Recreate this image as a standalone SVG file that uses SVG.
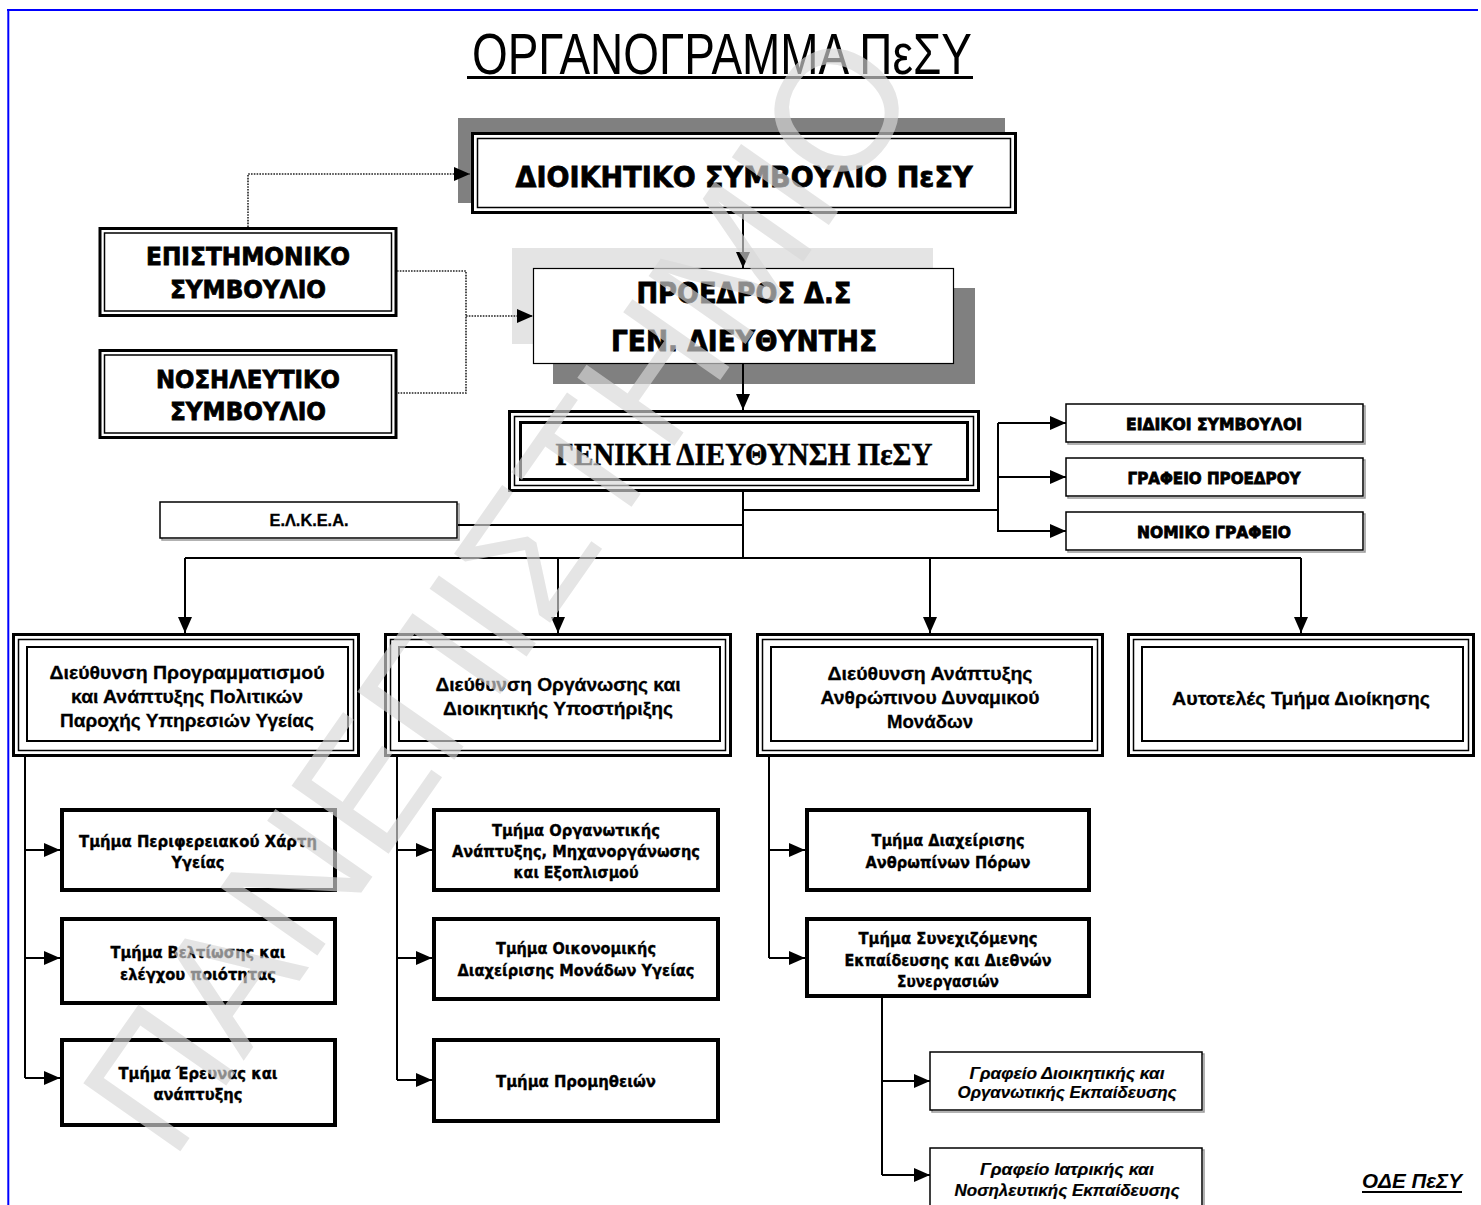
<svg xmlns="http://www.w3.org/2000/svg" width="1481" height="1205" viewBox="0 0 1481 1205">
<defs>
<marker id="ah" markerUnits="userSpaceOnUse" markerWidth="16" markerHeight="14" refX="16" refY="7" orient="auto">
<path d="M0,0 L16,7 L0,14 z" fill="#000"/>
</marker>
<style>
.ln{stroke:#000;stroke-width:2;fill:none}
.dt{stroke:#222;stroke-width:1.6;stroke-dasharray:1.6 1.2;fill:none}
.b{fill:#fff;stroke:#000}
.t{font-family:"DejaVu Sans",Verdana,sans-serif;font-weight:bold;text-anchor:middle;fill:#000;stroke:#000;stroke-width:0.8}
.d{font-family:"Liberation Sans",Arial,sans-serif;font-weight:bold;text-anchor:middle;fill:#000;font-size:19px;stroke:#000;stroke-width:0.3}
.s{font-family:"DejaVu Sans",Verdana,sans-serif;font-weight:bold;text-anchor:middle;fill:#000;font-size:15px;stroke:#000;stroke-width:0.35}
.o{font-family:"Liberation Sans",Arial,sans-serif;font-weight:bold;font-style:italic;text-anchor:middle;fill:#000;font-size:16px;stroke:#000;stroke-width:0.2}
.sh{fill:#808080}
.thick{fill:#fff;stroke:#000;stroke-width:4}
.thin{fill:#fff;stroke:#000;stroke-width:1.5}
.gs{fill:none;stroke:#999;stroke-width:1.5}
</style>
</defs>
<rect width="1481" height="1205" fill="#fff"/>
<g id="frame">
<line x1="7" y1="10" x2="1478" y2="10" stroke="#0000ff" stroke-width="2.2"/>
<line x1="8.3" y1="9" x2="8.3" y2="1205" stroke="#0000ff" stroke-width="2"/>
</g>
<g id="title">
<text x="722" y="74" font-family="'Liberation Sans Narrow','Liberation Sans',Arial,sans-serif" font-size="57" text-anchor="middle" textLength="500" lengthAdjust="spacingAndGlyphs">ΟΡΓΑΝΟΓΡΑΜΜΑ ΠεΣΥ</text>
<line x1="467" y1="77.5" x2="973" y2="77.5" stroke="#000" stroke-width="3"/>
</g>
<g id="n-ds">
<rect class="sh" x="458" y="118" width="547" height="85"/>
<rect class="b" x="472.5" y="133.5" width="543" height="79" stroke-width="3"/>
<rect fill="none" stroke="#000" x="477.5" y="138.5" width="533" height="69" stroke-width="1.5"/>
<text class="t" x="744" y="187" font-size="29" textLength="457" lengthAdjust="spacingAndGlyphs">ΔΙΟΙΚΗΤΙΚΟ ΣΥΜΒΟΥΛΙΟ ΠεΣΥ</text>
</g>
<g id="n-epist">
<rect class="b" x="100" y="228.5" width="296" height="87" stroke-width="3"/>
<rect fill="none" stroke="#000" x="104.5" y="233" width="287" height="78" stroke-width="1.5"/>
<text class="t" x="248" y="265" font-size="25" textLength="204" lengthAdjust="spacingAndGlyphs">ΕΠΙΣΤΗΜΟΝΙΚΟ</text>
<text class="t" x="248" y="298" font-size="25" textLength="156" lengthAdjust="spacingAndGlyphs">ΣΥΜΒΟΥΛΙΟ</text>
</g>
<g id="n-nosil">
<rect class="b" x="100" y="350.5" width="296" height="87" stroke-width="3"/>
<rect fill="none" stroke="#000" x="104.5" y="355" width="287" height="78" stroke-width="1.5"/>
<text class="t" x="248" y="388" font-size="25" textLength="184" lengthAdjust="spacingAndGlyphs">ΝΟΣΗΛΕΥΤΙΚΟ</text>
<text class="t" x="248" y="420" font-size="25" textLength="156" lengthAdjust="spacingAndGlyphs">ΣΥΜΒΟΥΛΙΟ</text>
</g>
<g id="n-proedros">
<rect fill="#e4e4e4" x="512" y="248" width="421" height="96"/>
<rect class="sh" x="553" y="288" width="422" height="96"/>
<rect class="b" x="533.5" y="268.5" width="420" height="95" stroke-width="1.2"/>
<text class="t" x="744" y="303" font-size="28" textLength="215" lengthAdjust="spacingAndGlyphs">ΠΡΟΕΔΡΟΣ Δ.Σ</text>
<text class="t" x="744" y="351" font-size="28" textLength="266" lengthAdjust="spacingAndGlyphs">ΓΕΝ. ΔΙΕΥΘΥΝΤΗΣ</text>
</g>
<g id="n-geniki">
<rect class="b" x="509.5" y="411.5" width="469" height="79" stroke-width="3"/>
<rect fill="none" stroke="#000" x="514.5" y="416.5" width="459" height="69" stroke-width="1.5"/>
<rect fill="none" stroke="#000" x="520.5" y="422.5" width="447" height="57" stroke-width="3"/>
<text x="744" y="465" font-family="'Liberation Serif','Times New Roman',serif" font-weight="bold" font-size="31" text-anchor="middle" stroke="#000" stroke-width="0.5" textLength="377" lengthAdjust="spacingAndGlyphs">ΓΕΝΙΚΗ ΔΙΕΥΘΥΝΣΗ ΠεΣΥ</text>
</g>
<g id="n-eidikoi">
<rect class="gs" x="1068" y="406" width="297" height="38"/>
<rect class="thin" x="1066" y="404" width="297" height="38"/>
<text class="t" x="1214" y="430" font-size="16" stroke-width="0.4" textLength="176" lengthAdjust="spacingAndGlyphs">ΕΙΔΙΚΟΙ ΣΥΜΒΟΥΛΟΙ</text>
</g>
<g id="n-grafeio-proedrou">
<rect class="gs" x="1068" y="460" width="297" height="38"/>
<rect class="thin" x="1066" y="458" width="297" height="38"/>
<text class="t" x="1214" y="484" font-size="16" stroke-width="0.4" textLength="173" lengthAdjust="spacingAndGlyphs">ΓΡΑΦΕΙΟ ΠΡΟΕΔΡΟΥ</text>
</g>
<g id="n-nomiko">
<rect class="gs" x="1068" y="514" width="297" height="38"/>
<rect class="thin" x="1066" y="512" width="297" height="38"/>
<text class="t" x="1214" y="538" font-size="16" stroke-width="0.4" textLength="154" lengthAdjust="spacingAndGlyphs">ΝΟΜΙΚΟ ΓΡΑΦΕΙΟ</text>
</g>
<g id="n-elkea">
<rect class="gs" x="162" y="504" width="297" height="36"/>
<rect class="thin" x="160" y="502" width="297" height="36"/>
<text x="309" y="526" font-family="'Liberation Sans Narrow','Liberation Sans',Arial,sans-serif" font-weight="bold" font-size="16" text-anchor="middle" stroke="#000" stroke-width="0.3" textLength="79" lengthAdjust="spacingAndGlyphs">Ε.Λ.Κ.Ε.Α.</text>
</g>
<g id="n-dir1">
<rect class="b" x="13.5" y="634.5" width="345" height="121" stroke-width="3"/>
<rect fill="none" stroke="#000" x="18.5" y="639.5" width="335" height="111" stroke-width="1.5"/>
<rect fill="none" stroke="#000" x="27" y="647" width="321" height="94" stroke-width="2"/>
<text class="d" x="187" y="679" textLength="275" lengthAdjust="spacingAndGlyphs">Διεύθυνση Προγραμματισμού</text>
<text class="d" x="187" y="703" textLength="232" lengthAdjust="spacingAndGlyphs">και Ανάπτυξης Πολιτικών</text>
<text class="d" x="187" y="727" textLength="254" lengthAdjust="spacingAndGlyphs">Παροχής Υπηρεσιών Υγείας</text>
</g>
<g id="n-dir2">
<rect class="b" x="385.5" y="634.5" width="345" height="121" stroke-width="3"/>
<rect fill="none" stroke="#000" x="390.5" y="639.5" width="335" height="111" stroke-width="1.5"/>
<rect fill="none" stroke="#000" x="399" y="647" width="321" height="94" stroke-width="2"/>
<text class="d" x="558" y="691" textLength="245" lengthAdjust="spacingAndGlyphs">Διεύθυνση Οργάνωσης και</text>
<text class="d" x="558" y="715" textLength="230" lengthAdjust="spacingAndGlyphs">Διοικητικής Υποστήριξης</text>
</g>
<g id="n-dir3">
<rect class="b" x="757.5" y="634.5" width="345" height="121" stroke-width="3"/>
<rect fill="none" stroke="#000" x="762.5" y="639.5" width="335" height="111" stroke-width="1.5"/>
<rect fill="none" stroke="#000" x="771" y="647" width="321" height="94" stroke-width="2"/>
<text class="d" x="930" y="680" textLength="205" lengthAdjust="spacingAndGlyphs">Διεύθυνση Ανάπτυξης</text>
<text class="d" x="930" y="704" textLength="219" lengthAdjust="spacingAndGlyphs">Ανθρώπινου Δυναμικού</text>
<text class="d" x="930" y="728" textLength="86" lengthAdjust="spacingAndGlyphs">Μονάδων</text>
</g>
<g id="n-dir4">
<rect class="b" x="1128.5" y="634.5" width="345" height="121" stroke-width="3"/>
<rect fill="none" stroke="#000" x="1133.5" y="639.5" width="335" height="111" stroke-width="1.5"/>
<rect fill="none" stroke="#000" x="1142" y="647" width="321" height="94" stroke-width="2"/>
<text class="d" x="1301" y="705" textLength="258" lengthAdjust="spacingAndGlyphs">Αυτοτελές Τμήμα Διοίκησης</text>
</g>
<g id="n-c1b1">
<rect class="thick" x="62" y="810" width="273" height="80"/>
<text class="s" x="198" y="847" textLength="238" lengthAdjust="spacingAndGlyphs">Τμήμα Περιφερειακού Χάρτη</text>
<text class="s" x="198" y="868" textLength="53" lengthAdjust="spacingAndGlyphs">Υγείας</text>
</g>
<g id="n-c1b2">
<rect class="thick" x="62" y="919" width="273" height="84"/>
<text class="s" x="198" y="958" textLength="175" lengthAdjust="spacingAndGlyphs">Τμήμα Βελτίωσης και</text>
<text class="s" x="198" y="980" textLength="156" lengthAdjust="spacingAndGlyphs">ελέγχου ποιότητας</text>
</g>
<g id="n-c1b3">
<rect class="thick" x="62" y="1040" width="273" height="85"/>
<text class="s" x="198" y="1079" textLength="159" lengthAdjust="spacingAndGlyphs">Τμήμα Έρευνας και</text>
<text class="s" x="198" y="1100" textLength="89" lengthAdjust="spacingAndGlyphs">ανάπτυξης</text>
</g>
<g id="n-c2b1">
<rect class="thick" x="434" y="810" width="284" height="80"/>
<text class="s" x="576" y="836" textLength="168" lengthAdjust="spacingAndGlyphs">Τμήμα Οργανωτικής</text>
<text class="s" x="576" y="857" textLength="248" lengthAdjust="spacingAndGlyphs">Ανάπτυξης, Μηχανοργάνωσης</text>
<text class="s" x="576" y="878" textLength="125" lengthAdjust="spacingAndGlyphs">και Εξοπλισμού</text>
</g>
<g id="n-c2b2">
<rect class="thick" x="434" y="919" width="284" height="80"/>
<text class="s" x="576" y="954" textLength="160" lengthAdjust="spacingAndGlyphs">Τμήμα Οικονομικής</text>
<text class="s" x="576" y="976" textLength="237" lengthAdjust="spacingAndGlyphs">Διαχείρισης Μονάδων Υγείας</text>
</g>
<g id="n-c2b3">
<rect class="thick" x="434" y="1040" width="284" height="81"/>
<text class="s" x="576" y="1087" textLength="160" lengthAdjust="spacingAndGlyphs">Τμήμα Προμηθειών</text>
</g>
<g id="n-c3b1">
<rect class="thick" x="807" y="810" width="282" height="80"/>
<text class="s" x="948" y="846" textLength="153" lengthAdjust="spacingAndGlyphs">Τμήμα Διαχείρισης</text>
<text class="s" x="948" y="868" textLength="165" lengthAdjust="spacingAndGlyphs">Ανθρωπίνων Πόρων</text>
</g>
<g id="n-c3b2">
<rect class="thick" x="807" y="919" width="282" height="77"/>
<text class="s" x="948" y="944" textLength="179" lengthAdjust="spacingAndGlyphs">Τμήμα Συνεχιζόμενης</text>
<text class="s" x="948" y="966" textLength="207" lengthAdjust="spacingAndGlyphs">Εκπαίδευσης και Διεθνών</text>
<text class="s" x="948" y="987" textLength="102" lengthAdjust="spacingAndGlyphs">Συνεργασιών</text>
</g>
<g id="n-off1">
<rect class="gs" x="932" y="1054" width="272" height="58"/>
<rect class="thin" x="930" y="1052" width="272" height="58"/>
<text class="o" x="1067" y="1079" textLength="195" lengthAdjust="spacingAndGlyphs">Γραφείο Διοικητικής και</text>
<text class="o" x="1067" y="1098" textLength="219" lengthAdjust="spacingAndGlyphs">Οργανωτικής Εκπαίδευσης</text>
</g>
<g id="n-off2">
<rect class="gs" x="932" y="1150" width="272" height="58"/>
<rect class="thin" x="930" y="1148" width="272" height="58"/>
<text class="o" x="1067" y="1175" textLength="174" lengthAdjust="spacingAndGlyphs">Γραφείο Ιατρικής και</text>
<text class="o" x="1067" y="1196" textLength="225" lengthAdjust="spacingAndGlyphs">Νοσηλευτικής Εκπαίδευσης</text>
</g>
<g id="footer">
<text x="1412" y="1188" font-family="'Liberation Sans',Arial,sans-serif" font-weight="bold" font-style="italic" font-size="20" text-anchor="middle" textLength="100" lengthAdjust="spacingAndGlyphs">ΟΔΕ ΠεΣΥ</text>
<line x1="1362" y1="1192" x2="1462" y2="1192" stroke="#000" stroke-width="2"/>
</g>
<g id="connectors">
<path class="dt" d="M248,227 V174 H470" marker-end="url(#ah)"/>
<path class="dt" d="M397,271 H466 V393 H397"/>
<path class="dt" d="M466,316 H533" marker-end="url(#ah)"/>
<path class="ln" d="M743,214 V268" marker-end="url(#ah)"/>
<path class="ln" d="M743,364 V410" marker-end="url(#ah)"/>
<path class="ln" d="M743,492 V558"/>
<path class="ln" d="M743,510 H998"/>
<path class="ln" d="M998,423 V532"/>
<path class="ln" d="M998,423 H1066" marker-end="url(#ah)"/>
<path class="ln" d="M998,477 H1066" marker-end="url(#ah)"/>
<path class="ln" d="M998,531 H1066" marker-end="url(#ah)"/>
<path class="ln" d="M458,525 H743"/>
<path class="ln" d="M185,558 H1301"/>
<path class="ln" d="M185,558 V633" marker-end="url(#ah)"/>
<path class="ln" d="M558,558 V633" marker-end="url(#ah)"/>
<path class="ln" d="M930,558 V633" marker-end="url(#ah)"/>
<path class="ln" d="M1301,558 V633" marker-end="url(#ah)"/>
<path class="ln" d="M25,757 V1078"/>
<path class="ln" d="M25,850 H60" marker-end="url(#ah)"/>
<path class="ln" d="M25,958 H60" marker-end="url(#ah)"/>
<path class="ln" d="M25,1078 H60" marker-end="url(#ah)"/>
<path class="ln" d="M397,757 V1080"/>
<path class="ln" d="M397,850 H432" marker-end="url(#ah)"/>
<path class="ln" d="M397,958 H432" marker-end="url(#ah)"/>
<path class="ln" d="M397,1080 H432" marker-end="url(#ah)"/>
<path class="ln" d="M769,757 V958"/>
<path class="ln" d="M769,850 H805" marker-end="url(#ah)"/>
<path class="ln" d="M769,958 H805" marker-end="url(#ah)"/>
<path class="ln" d="M882,998 V1175"/>
<path class="ln" d="M882,1081 H930" marker-end="url(#ah)"/>
<path class="ln" d="M882,1175 H930" marker-end="url(#ah)"/>
</g>
<g id="watermark" opacity="0.65">
<text transform="translate(548,626) rotate(-55)" font-family="'Liberation Sans',Arial,sans-serif" font-size="172" fill="#d8d8d8" text-anchor="middle">ΠΑΝΕΠΙΣΤΗΜΙΟ</text>
</g>
</svg>
